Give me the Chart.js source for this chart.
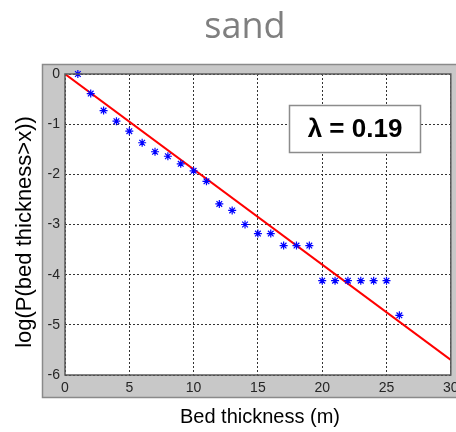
<!DOCTYPE html>
<html>
<head>
<meta charset="utf-8">
<script src="https://cdn.jsdelivr.net/npm/chart.js@4/dist/chart.umd.min.js"></script>
<style>
  body { margin: 0; background: #fff; }
  #wrap { width: 456px; height: 432px; }
</style>
</head>
<body>
<div id="wrap"><canvas id="sandChart" width="456" height="432"></canvas></div>
<script>
// --- datos: espesor de capa (m) vs log de probabilidad de excedencia ---
const espesores = [1, 2, 3, 4, 5, 6, 7, 8, 9, 10, 11, 12, 13, 14, 15, 16, 17, 18, 19, 20, 21, 22, 23, 24, 25, 26];
const logExcedencia = [0, -0.39, -0.73, -0.94, -1.14, -1.37, -1.55, -1.64, -1.79, -1.93, -2.14, -2.59, -2.72,
  -3.0, -3.18, -3.18, -3.42, -3.42, -3.42, -4.12, -4.12, -4.12, -4.12, -4.12, -4.12, -4.81];
const lambda = 0.19;
const ajusteX = [0, 30];
const xTicks = [0, 5, 10, 15, 20, 25, 30];
const yTicks = [0, -1, -2, -3, -4, -5, -6];

const puntos = espesores.map((x, i) => ({ x: x, y: logExcedencia[i] }));
const recta = ajusteX.map(x => ({ x: x, y: -lambda * x }));

// marco gris estilo matlab + textos
const marcoPlugin = {
  id: 'marco',
  beforeDraw(chart) {
    const ctx = chart.ctx;
    const a = chart.chartArea;
    ctx.save();
    ctx.fillStyle = '#fff';
    ctx.fillRect(0, 0, chart.width, chart.height);
    ctx.fillStyle = '#c8c8c8';
    ctx.fillRect(42, 64, chart.width - 42 + 2, 334);
    ctx.strokeStyle = '#8a8a8a';
    ctx.lineWidth = 1.5;
    ctx.strokeRect(42.5, 64.5, chart.width, 333);
    ctx.fillStyle = '#fff';
    ctx.fillRect(a.left, a.top, a.right - a.left, a.bottom - a.top);
    ctx.restore();
  },
  afterDraw(chart) {
    const ctx = chart.ctx;
    const a = chart.chartArea;
    ctx.save();
    // borde del area
    ctx.strokeStyle = '#5a5a5a';
    ctx.lineWidth = 1.5;
    ctx.strokeRect(a.left, a.top, a.right - a.left, a.bottom - a.top);

    // titulo
    ctx.fillStyle = '#7f7f7f';
    ctx.font = '36px "Open Sans"';
    ctx.textAlign = 'center';
    ctx.textBaseline = 'alphabetic';
    ctx.fillText('sand', 245, 38);

    // etiquetas de ejes
    ctx.fillStyle = '#000';
    ctx.font = '20px "Liberation Sans", Arial';
    ctx.textBaseline = 'middle';
    ctx.fillText('Bed thickness (m)', 260, 417);
    ctx.translate(25, 232);
    ctx.rotate(-Math.PI / 2);
    ctx.font = '22px "Liberation Sans", Arial';
    ctx.fillText('log(P(bed thickness>x))', 0, 0);
    ctx.restore();

    // caja con lambda
    ctx.save();
    ctx.fillStyle = '#fff';
    ctx.fillRect(289, 105, 132, 48);
    ctx.strokeStyle = '#8c8c8c';
    ctx.lineWidth = 1.5;
    ctx.strokeRect(289.5, 105.5, 131, 47);
    ctx.fillStyle = '#000';
    ctx.font = 'bold 26px "Liberation Sans", Arial';
    ctx.textAlign = 'center';
    ctx.textBaseline = 'middle';
    ctx.fillText('\u03bb = ' + lambda.toFixed(2), 355, 130);
    ctx.restore();
  }
};

const fuenteTicks = { family: '"Liberation Sans", Arial', size: 14 };

new Chart(document.getElementById('sandChart'), {
  type: 'scatter',
  data: {
    datasets: [
      {
        label: 'datos',
        data: puntos,
        pointStyle: 'star',
        pointRadius: 4,
        borderColor: '#0000ff',
        backgroundColor: '#0000ff',
        pointBorderWidth: 1.2,
        showLine: false,
        clip: false
      },
      {
        label: 'ajuste',
        data: recta,
        showLine: true,
        borderColor: '#ff0000',
        borderWidth: 2,
        pointRadius: 0
      }
    ]
  },
  options: {
    responsive: false,
    animation: false,
    layout: { padding: { top: 74, right: 3, left: 0, bottom: 0 } },
    plugins: {
      legend: { display: false },
      title: { display: false },
      tooltip: { enabled: false }
    },
    scales: {
      x: {
        type: 'linear',
        min: 0,
        max: 30,
        afterFit(scale) {
          scale.height = 57;
          scale.paddingLeft = 0;
          scale.paddingRight = 0;
        },
        afterBuildTicks(scale) { scale.ticks = xTicks.map(v => ({ value: v })); },
        ticks: { font: fuenteTicks, color: '#262626', padding: 5 },
        grid: { color: '#333', drawTicks: false, lineWidth: 1 },
        border: { display: false, dash: [2, 2] }
      },
      y: {
        type: 'linear',
        min: -6,
        max: 0,
        afterFit(scale) {
          scale.width = 65;
          scale.paddingTop = 0;
          scale.paddingBottom = 0;
        },
        afterBuildTicks(scale) { scale.ticks = yTicks.map(v => ({ value: v })); },
        ticks: { font: fuenteTicks, color: '#262626', padding: 5 },
        grid: { color: '#333', drawTicks: false, lineWidth: 1 },
        border: { display: false, dash: [2, 2] }
      }
    }
  },
  plugins: [marcoPlugin]
});
</script>
</body>
</html>
